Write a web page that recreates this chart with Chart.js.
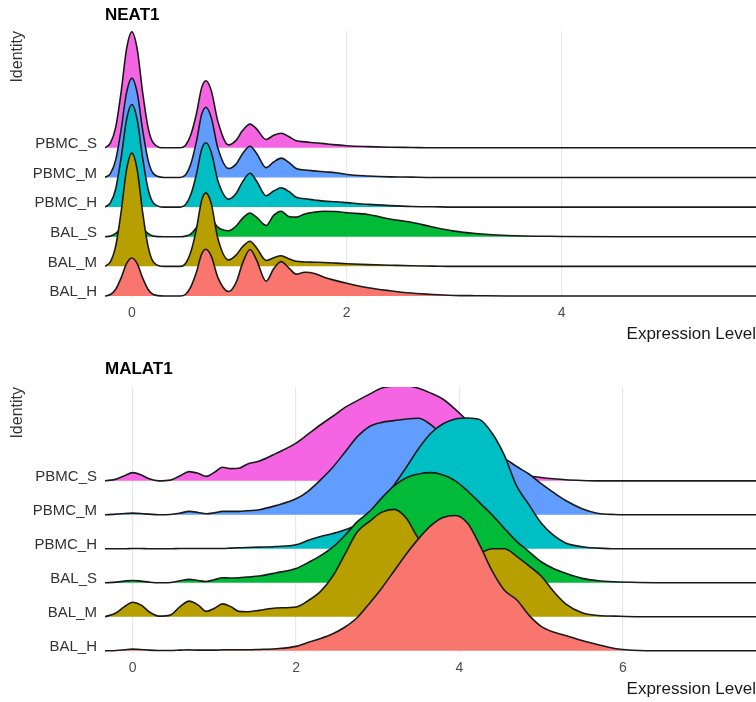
<!DOCTYPE html>
<html>
<head>
<meta charset="utf-8">
<script src="https://cdn.jsdelivr.net/npm/chart.js@4.4.0/dist/chart.umd.min.js"></script>
<style>
  html, body { margin: 0; padding: 0; background: #ffffff; }
  canvas { display: block; }
</style>
</head>
<body>
<canvas id="neat1" width="756" height="351"></canvas>
<canvas id="malat1" width="756" height="351"></canvas>
<script>
// Categorias (de baixo para cima) e cores
const identities = ['BAL_H', 'BAL_M', 'BAL_S', 'PBMC_H', 'PBMC_M', 'PBMC_S'];
const identityColors = ['#F8766D', '#B79F00', '#00BA38', '#00BFC4', '#619CFF', '#F564E3'];

// NEAT1: grade do eixo x e alturas de densidade (em unidades de linha)
const neatX = [-0.25, -0.2, -0.15, -0.1, -0.05, 0, 0.05, 0.1, 0.15, 0.2, 0.3, 0.45, 0.5, 0.55, 0.6, 0.65, 0.69, 0.74, 0.8, 0.9, 0.97, 1.03, 1.1, 1.16, 1.25, 1.32, 1.39, 1.46, 1.53, 1.61, 1.7, 1.79, 1.9, 2.0, 2.2, 2.4, 2.6, 2.8, 3.0, 3.2, 3.5, 4.0, 4.5, 5.0, 5.81];
const neatBalH = [0, 0.05, 0.23, 0.61, 1.09, 1.28, 1.09, 0.61, 0.23, 0.05, 0, 0, 0.06, 0.32, 0.79, 1.42, 1.58, 1.34, 0.63, 0.15, 0.45, 1.1, 1.57, 1.22, 0.5, 0.92, 1.16, 0.95, 0.74, 0.8, 0.76, 0.63, 0.52, 0.43, 0.28, 0.18, 0.1, 0.05, 0.02, 0.01, 0, 0, 0, 0, 0];
const neatBalM = [0, 0.15, 0.69, 1.83, 3.25, 3.82, 3.25, 1.83, 0.69, 0.15, 0, 0, 0.1, 0.5, 1.24, 2.23, 2.48, 2.1, 0.95, 0.22, 0.38, 0.66, 0.85, 0.63, 0.2, 0.29, 0.36, 0.26, 0.17, 0.15, 0.14, 0.13, 0.11, 0.09, 0.06, 0.04, 0.02, 0.01, 0, 0, 0, 0, 0, 0, 0];
const neatBalS = [0, 0.02, 0.11, 0.29, 0.51, 0.6, 0.51, 0.29, 0.11, 0.02, 0, 0, 0.02, 0.1, 0.3, 0.6, 0.7, 0.6, 0.32, 0.2, 0.36, 0.62, 0.8, 0.66, 0.38, 0.72, 0.86, 0.68, 0.66, 0.77, 0.83, 0.86, 0.85, 0.81, 0.75, 0.6, 0.49, 0.33, 0.19, 0.11, 0.04, 0.01, 0, 0, 0];
const neatPbmcH = [0, 0.14, 0.62, 1.66, 2.94, 3.46, 2.94, 1.66, 0.62, 0.14, 0, 0, 0.09, 0.43, 1.09, 1.95, 2.17, 1.84, 0.9, 0.27, 0.46, 0.85, 1.14, 0.88, 0.38, 0.54, 0.65, 0.53, 0.33, 0.28, 0.24, 0.2, 0.18, 0.15, 0.09, 0.05, 0.02, 0.01, 0, 0, 0, 0, 0, 0, 0];
const neatPbmcM = [0, 0.13, 0.6, 1.61, 2.85, 3.35, 2.85, 1.61, 0.6, 0.13, 0, 0, 0.09, 0.47, 1.19, 2.13, 2.37, 2.01, 1.0, 0.3, 0.45, 0.8, 1.05, 0.82, 0.33, 0.52, 0.65, 0.51, 0.3, 0.25, 0.22, 0.19, 0.16, 0.1, 0.05, 0.02, 0.01, 0, 0, 0, 0, 0, 0, 0, 0];
const neatPbmcS = [0, 0.16, 0.7, 1.88, 3.32, 3.91, 3.32, 1.88, 0.7, 0.16, 0, 0, 0.09, 0.45, 1.13, 2.03, 2.26, 1.92, 0.9, 0.1, 0.25, 0.58, 0.8, 0.64, 0.28, 0.42, 0.49, 0.38, 0.24, 0.2, 0.17, 0.14, 0.1, 0.07, 0.04, 0.02, 0.01, 0, 0, 0, 0, 0, 0, 0, 0];
const neatTicks = [0, 2, 4];

// MALAT1: grade do eixo x e alturas de densidade
const malatX = [-0.34, -0.2, -0.1, 0, 0.1, 0.2, 0.32, 0.46, 0.58, 0.69, 0.8, 0.9, 1.0, 1.1, 1.2, 1.3, 1.4, 1.55, 1.75, 2.0, 2.15, 2.3, 2.45, 2.6, 2.75, 2.9, 3.05, 3.2, 3.35, 3.5, 3.65, 3.8, 3.95, 4.1, 4.25, 4.4, 4.55, 4.7, 4.85, 5.0, 5.15, 5.3, 5.5, 5.7, 5.9, 6.2, 6.6, 7.63];
const malatBalH = [0, 0.01, 0.03, 0.05, 0.04, 0.02, 0.01, 0.01, 0.02, 0.03, 0.02, 0.02, 0.02, 0.03, 0.03, 0.03, 0.03, 0.04, 0.06, 0.13, 0.25, 0.36, 0.5, 0.7, 0.98, 1.4, 1.85, 2.35, 2.85, 3.3, 3.68, 3.92, 3.98, 3.75, 3.1, 2.35, 1.78, 1.5, 1.05, 0.72, 0.55, 0.45, 0.3, 0.18, 0.07, 0.01, 0, 0];
const malatBalM = [0, 0.12, 0.3, 0.43, 0.35, 0.15, 0.02, 0.05, 0.3, 0.46, 0.35, 0.16, 0.25, 0.38, 0.3, 0.16, 0.15, 0.19, 0.26, 0.29, 0.48, 0.75, 1.2, 1.85, 2.5, 2.81, 3.08, 3.16, 2.9, 2.3, 2.0, 1.85, 1.8, 1.82, 1.88, 2.0, 2.0, 1.78, 1.5, 1.2, 0.75, 0.38, 0.12, 0.04, 0.02, 0, 0, 0];
const malatBalS = [0, 0.02, 0.05, 0.07, 0.05, 0.02, 0, 0.01, 0.06, 0.1, 0.07, 0.04, 0.09, 0.15, 0.14, 0.15, 0.17, 0.2, 0.29, 0.42, 0.6, 0.8, 1.05, 1.4, 1.8, 2.1, 2.5, 2.85, 3.09, 3.2, 3.24, 3.17, 3.0, 2.7, 2.35, 2.0, 1.6, 1.22, 0.92, 0.62, 0.42, 0.28, 0.13, 0.06, 0.03, 0.01, 0, 0];
const malatPbmcH = [0, 0, 0, 0.01, 0.01, 0, 0, 0, 0.01, 0.01, 0.01, 0.01, 0.01, 0.01, 0.02, 0.03, 0.04, 0.05, 0.07, 0.12, 0.25, 0.36, 0.45, 0.56, 0.72, 1.05, 1.45, 1.88, 2.4, 2.95, 3.4, 3.68, 3.82, 3.85, 3.8, 3.4, 2.75, 1.85, 1.3, 0.76, 0.4, 0.17, 0.06, 0.02, 0, 0, 0, 0];
const malatPbmcM = [0, 0.02, 0.04, 0.05, 0.04, 0.02, 0, 0.01, 0.05, 0.1, 0.07, 0.03, 0.06, 0.1, 0.1, 0.1, 0.12, 0.15, 0.27, 0.47, 0.7, 1.03, 1.4, 1.85, 2.3, 2.6, 2.72, 2.77, 2.82, 2.84, 2.65, 2.35, 2.2, 2.05, 1.95, 1.8, 1.66, 1.42, 1.2, 0.92, 0.66, 0.42, 0.18, 0.04, 0.01, 0, 0, 0];
const malatPbmcS = [0, 0.05, 0.15, 0.24, 0.18, 0.06, 0, 0.02, 0.15, 0.27, 0.22, 0.13, 0.25, 0.4, 0.36, 0.37, 0.49, 0.58, 0.8, 1.11, 1.38, 1.65, 1.9, 2.16, 2.36, 2.55, 2.73, 2.79, 2.8, 2.72, 2.58, 2.4, 2.1, 1.75, 1.35, 0.85, 0.55, 0.3, 0.15, 0.1, 0.06, 0.03, 0.01, 0, 0, 0, 0, 0];
const malatTicks = [0, 2, 4, 6];

const fontFamily = '"Liberation Sans", Arial, Helvetica, sans-serif';

// Monta um gráfico de linhas de cumeada (ridgeline) em um canvas
function ridgeChart(canvasId, cfg) {
    // cada linha é deslocada para cima pelo seu índice; o preenchimento vai até a linha de base
    const datasets = cfg.series.map((dens, row) => ({
        label: identities[row],
        data: cfg.xs.map((x, i) => ({ x: x, y: row + dens[i] })),
        backgroundColor: identityColors[row],
        borderColor: '#1a1a1a',
        borderWidth: 1.6,
        fill: { value: row },
        pointRadius: 0,
        cubicInterpolationMode: 'monotone'
    }));

    return new Chart(document.getElementById(canvasId).getContext('2d'), {
        type: 'line',
        data: { datasets: datasets },
        options: {
            responsive: false,
            animation: false,
            devicePixelRatio: 1,
            layout: { padding: 0 },
            plugins: {
                legend: { display: false },
                tooltip: { enabled: false },
                title: {
                    display: true,
                    text: cfg.title,
                    align: 'start',
                    fullSize: false,
                    color: '#000000',
                    font: { family: fontFamily, size: 17, weight: 'bold' },
                    padding: { top: cfg.titlePad, bottom: cfg.titlePad }
                }
            },
            scales: {
                x: {
                    type: 'linear',
                    min: cfg.xMin,
                    max: cfg.xMax,
                    afterBuildTicks: s => { s.ticks = cfg.ticks.map(v => ({ value: v })); },
                    afterFit: s => { s.height = cfg.xAxisHeight; },
                    border: { display: false },
                    grid: { color: '#e8e8e8', lineWidth: 1.2, drawTicks: false },
                    ticks: {
                        color: '#4d4d4d',
                        padding: 7,
                        font: { family: fontFamily, size: 14 }
                    },
                    title: {
                        display: true,
                        text: 'Expression Level',
                        align: 'end',
                        color: '#1a1a1a',
                        font: { family: fontFamily, size: 17 },
                        padding: { top: 0, bottom: cfg.xTitlePad }
                    }
                },
                y: {
                    type: 'linear',
                    min: -0.05,
                    max: cfg.yMax,
                    afterBuildTicks: s => { s.ticks = identities.map((_, i) => ({ value: i })); },
                    afterFit: s => { s.width = 105; },
                    border: { display: false },
                    grid: { display: false, drawTicks: false },
                    ticks: {
                        color: '#333333',
                        padding: 8,
                        labelOffset: -4,
                        font: { family: fontFamily, size: 15 },
                        callback: v => identities[v]
                    },
                    title: {
                        display: true,
                        text: 'Identity',
                        align: 'end',
                        color: '#333333',
                        font: { family: fontFamily, size: 16 },
                        padding: { top: 8, bottom: 0 }
                    }
                }
            }
        }
    });
}

ridgeChart('neat1', {
    title: 'NEAT1',
    xs: neatX,
    series: [neatBalH, neatBalM, neatBalS, neatPbmcH, neatPbmcM, neatPbmcS],
    ticks: neatTicks,
    xMin: -0.25,
    xMax: 5.81,
    yMax: 8.94,
    titlePad: 5.3,
    xAxisHeight: 53.5,
    xTitlePad: 6.5
});

ridgeChart('malat1', {
    title: 'MALAT1',
    xs: malatX,
    series: [malatBalH, malatBalM, malatBalS, malatPbmcH, malatPbmcM, malatPbmcS],
    ticks: malatTicks,
    xMin: -0.339,
    xMax: 7.63,
    yMax: 7.76,
    titlePad: 7.8,
    xAxisHeight: 49.5,
    xTitlePad: 2.5
});
</script>
</body>
</html>
